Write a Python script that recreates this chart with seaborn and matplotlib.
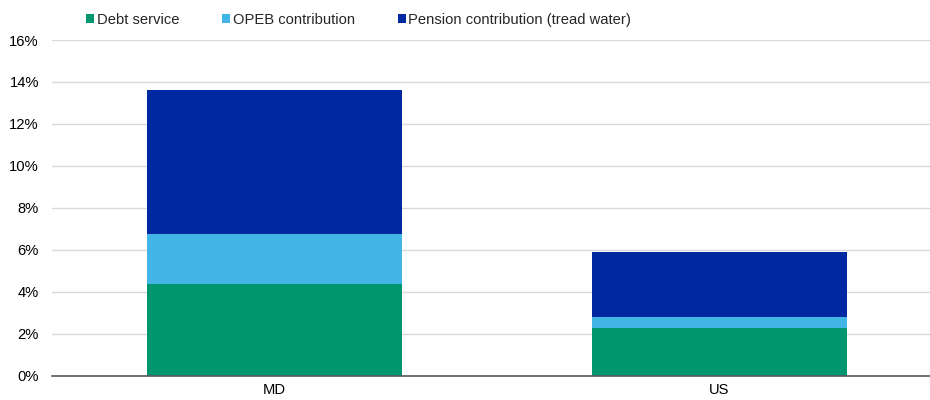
import matplotlib
matplotlib.use("Agg")
import matplotlib.pyplot as plt
from matplotlib.patches import Patch
from matplotlib.ticker import PercentFormatter
import pandas as pd
import seaborn as sns

regions = ["MD", "US"]
debt_service = [4.38, 2.29]
opeb_contribution = [2.35, 0.52]
pension_contribution = [6.91, 3.09]

series_names = ["Debt service", "OPEB contribution", "Pension contribution (tread water)"]
colors = ["#00966F", "#41B6E6", "#0028A0"]

sns.set_style("white")
plt.rcParams["font.family"] = ["Liberation Sans", "DejaVu Sans"]

df = pd.DataFrame({
    "Region": regions,
    "Debt service": debt_service,
    "OPEB contribution": opeb_contribution,
    "Pension contribution (tread water)": pension_contribution,
})
# cumulative tops so each layer is drawn over the one above it
df["top1"] = df["Debt service"]
df["top2"] = df["top1"] + df["OPEB contribution"]
df["top3"] = df["top2"] + df["Pension contribution (tread water)"]

fig = plt.figure(figsize=(9.3, 4), dpi=100)
ax = fig.add_axes([52 / 930, 24.3 / 400, 1 - 52 / 930, 335.7 / 400])

for col, color in zip(["top3", "top2", "top1"], colors[::-1]):
    sns.barplot(data=df, x="Region", y=col, color=color, width=0.572,
                saturation=1, linewidth=0, ax=ax)

ax.set_xlim(-0.5, 1.473)
ax.set_ylim(0, 16)
ax.set_yticks(range(0, 17, 2))
ax.yaxis.set_major_formatter(PercentFormatter(decimals=0))
ax.grid(axis="y", color="#D9D9D9", linewidth=1)
ax.set_axisbelow(True)
for s in ["left", "right", "top"]:
    ax.spines[s].set_visible(False)
ax.spines["bottom"].set_color("#595959")
ax.spines["bottom"].set_linewidth(1.2)
ax.set_xlabel("")
ax.set_ylabel("")
ax.tick_params(axis="both", length=0, labelsize=10.6, colors="#000000")
ax.tick_params(axis="x", pad=5)
ax.tick_params(axis="y", pad=9.4)

handles = [Patch(facecolor=c, edgecolor="none") for c in colors]
fig.legend(handles, series_names, loc="center left", bbox_to_anchor=(86 / 930, 1 - 20 / 400),
           ncol=3, frameon=False, fontsize=10.6, handlelength=0.55, handleheight=0.55,
           handletextpad=0.18, columnspacing=2.9, borderpad=0, borderaxespad=0)

fig.savefig("out.png", dpi=100)
